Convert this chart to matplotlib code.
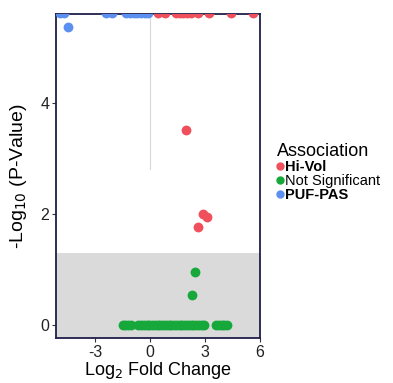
import matplotlib
matplotlib.use("Agg")
import matplotlib.pyplot as plt
from matplotlib.lines import Line2D

plt.rcParams["font.family"] = ["Liberation Sans", "DejaVu Sans"]
plt.rcParams["axes.unicode_minus"] = False

# data
puf_x = [-4.9, -4.7, -2.4, -2.1, -1.3, -1.1, -0.9, -0.7, -0.5, -0.3, -0.1, -4.5]
puf_y = [5.62, 5.62, 5.62, 5.62, 5.62, 5.62, 5.62, 5.62, 5.62, 5.62, 5.62, 5.36]
hivol_x = [0.4, 0.8, 1.4, 1.6, 1.8, 2.0, 2.2, 2.6, 3.2, 4.4, 5.6, 1.97, 3.1, 2.9, 2.6]
hivol_y = [5.62, 5.62, 5.62, 5.62, 5.62, 5.62, 5.62, 5.62, 5.62, 5.62, 5.62, 3.51, 1.94, 1.99, 1.77]
ns_x = [-1.5, -1.35, -1.2, -1.05, -0.65, -0.5, -0.35, -0.2, -0.05, 0.1, 0.25, 0.4, 0.55, 0.7,
        0.85, 1.0, 1.15, 1.3, 1.45, 1.6, 1.75, 1.9, 2.05, 2.2, 2.35, 2.5, 2.65, 2.8, 2.95,
        3.6, 3.75, 3.9, 4.05, 4.2, 2.46, 2.3]
ns_y = [0] * 34 + [0.96, 0.54]

c_red = "#F0505C"
c_green = "#16A83A"
c_blue = "#5B90F0"

fig = plt.figure(figsize=(3.93, 3.83), dpi=100)
ax = fig.add_axes([0.143, 0.118, 0.519, 0.846])

ax.axhspan(-1, 1.3, color="#DADADA", zorder=0, lw=0)
ax.plot([0, 0], [2.8, 6], color="#D8D8D8", lw=0.8, zorder=1)

ax.scatter(ns_x, ns_y, s=50, color=c_green, zorder=3, lw=0)
ax.scatter(hivol_x, hivol_y, s=50, color=c_red, zorder=3, lw=0)
ax.scatter(puf_x, puf_y, s=50, color=c_blue, zorder=3, lw=0)

ax.set_xlim(-5.13, 6.0)
ax.set_ylim(-0.23, 5.6)
ax.set_xticks([-3, 0, 3, 6])
ax.set_yticks([0, 2, 4])
for s in ax.spines.values():
    s.set_color("#1F1F4A")
    s.set_linewidth(1.3)
ax.tick_params(labelsize=11.5, color="#333333", length=3, width=0.8, pad=2, labelcolor="#222222")

ax.set_xlabel("Log$_2$ Fold Change", fontsize=13, labelpad=0)
ax.set_ylabel("-Log$_{10}$ (P-Value)", fontsize=14, labelpad=8)

handles = [Line2D([], [], marker="o", ls="", color=c, markersize=5) for c in (c_red, c_green, c_blue)]
leg = fig.legend(handles, ["Hi-Vol", "Not Significant", "PUF-PAS"], title="Association",
                 loc="upper left", bbox_to_anchor=(0.685, 0.645), frameon=False,
                 fontsize=10.5, title_fontsize=13, handlelength=0.5, handletextpad=0.1,
                 labelspacing=0.0, borderpad=0, alignment="left")
texts = leg.get_texts()
texts[0].set_fontweight("bold")
texts[2].set_fontweight("bold")

fig.savefig("out.png", dpi=100, facecolor="white")
